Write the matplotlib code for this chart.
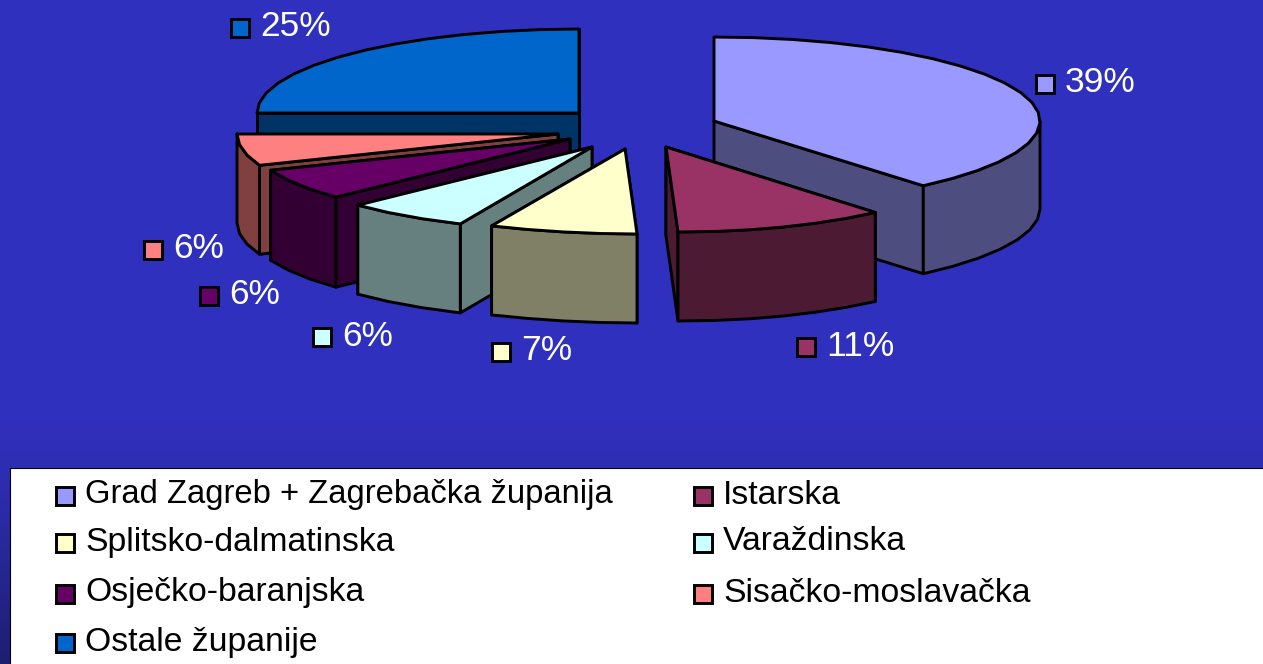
import numpy as np
import matplotlib
matplotlib.use("Agg")
import matplotlib.pyplot as plt
from matplotlib.patches import Polygon, Rectangle

# ---- data ----
categories = ["Grad Zagreb + Zagrebačka županija", "Istarska", "Splitsko-dalmatinska",
              "Varaždinska", "Osječko-baranjska", "Sisačko-moslavačka", "Ostale županije"]
values = [39, 11, 7, 6, 6, 6, 25]
top_colors = ["#9999FF", "#993366", "#FFFFCC", "#CCFFFF", "#660066", "#FF8080", "#0066CC"]
side_colors = ["#4D4D80", "#4D1A33", "#808066", "#668080", "#330033", "#804040", "#003366"]

# ---- layout (pixels) ----
W, H = 1263, 664
apexes = [(714, 121), (666, 147), (625, 149), (592, 147), (570, 139), (558, 134), (579, 113)]
radii_x = [326, 326, 326, 322, 322, 321, 322]
radii_y = [84, 85, 85, 85, 85, 85, 84]
depths = [88, 89, 89, 89, 90, 89, 89]
BULGE = 12
label_pos = [(1045, 84), (806, 347), (501, 352), (322, 337), (209, 296), (153, 250), (240, 28)]
legend_pos = [(65, 496), (703, 496), (65, 543), (703, 543), (65, 594), (703, 594), (65, 643)]
legend_sizes = [23.6, 24.3, 24.3, 24.3, 24.3, 24.3, 24.3]
LW = 2.1
FACET_DEG = 7

plt.rcParams['font.family'] = ['Liberation Sans', 'DejaVu Sans']
fig = plt.figure(figsize=(W / 100, H / 100), dpi=100)
ax = fig.add_axes([0, 0, 1, 1])
ax.set_xlim(0, W)
ax.set_ylim(H, 0)
ax.axis("off")

# background: blue, darkening towards the bottom
stops_y = [0, 420, 500, 664]
stops_r = [48, 48, 44, 30]
stops_b = [192, 190, 170, 112]
ys = np.arange(H)
grad = np.zeros((H, 1, 3))
grad[:, 0, 0] = np.interp(ys, stops_y, stops_r) / 255
grad[:, 0, 1] = np.interp(ys, stops_y, stops_r) / 255
grad[:, 0, 2] = np.interp(ys, stops_y, stops_b) / 255
ax.imshow(grad, extent=(0, W, H, 0), aspect="auto", zorder=0)


def rim(angle_deg, apex, rx, ry):
    a = np.radians(angle_deg)
    dx = rx * np.sin(a)
    dy = -ry * np.cos(a)
    x = apex[0] + dx + BULGE * np.clip(dy / ry, 0, 1) ** 8
    return np.column_stack([x, apex[1] + dy])


def poly(points, color, z):
    ax.add_patch(Polygon(points, closed=True, facecolor=color, edgecolor="black",
                         linewidth=LW, joinstyle="round", zorder=z))


def sweep(a, b):
    return np.linspace(a, b, max(2, int(round((b - a) / FACET_DEG)) + 1))


edges = np.concatenate([[0], np.cumsum(values)]) / np.sum(values) * 360
# back-to-front order of the exploded slices
order = [6, 0, 5, 4, 3, 1, 2]
for rank, i in enumerate(order):
    z = 2 + rank
    apex = np.array(apexes[i], dtype=float)
    rx, ry = radii_x[i], radii_y[i]
    down = np.array([0, depths[i]])
    a0, a1 = edges[i], edges[i + 1]
    arc = rim(sweep(a0, a1), apex, rx, ry)
    # two cut faces: the one facing the viewer goes last
    ends = (arc[-1], arc[0]) if a0 >= 180 else (arc[0], arc[-1])
    for end in ends:
        poly([apex, end, end + down, apex + down], side_colors[i], z)
    # visible part of the outer wall
    lo, hi = max(a0, 90), min(a1, 270)
    if hi > lo:
        front = rim(sweep(lo, hi), apex, rx, ry)
        poly(np.vstack([front, (front + down)[::-1]]), side_colors[i], z)
    poly(np.vstack([[apex], arc]), top_colors[i], z)

# value labels
S = 18
for (x, y), v, c in zip(label_pos, values, top_colors):
    ax.add_patch(Rectangle((x - S / 2, y - S / 2), S, S, facecolor=c, edgecolor="black",
                           linewidth=LW, zorder=20))
    ax.text(x + 20, y - 1, f"{v}%", color="white", fontsize=25.5, va="center", ha="left", zorder=20)

# legend
ax.add_patch(Rectangle((10, 468), W, H, facecolor="white", edgecolor="black", linewidth=0.8, zorder=15))
for (x, y), name, c, fs in zip(legend_pos, categories, top_colors, legend_sizes):
    ax.add_patch(Rectangle((x - S / 2, y - S / 2), S, S, facecolor=c, edgecolor="black",
                           linewidth=LW, zorder=20))
    ax.text(x + 20, y - 1, name, color="black", fontsize=fs, va="center", ha="left", zorder=20)

fig.savefig("out.png", dpi=100)
